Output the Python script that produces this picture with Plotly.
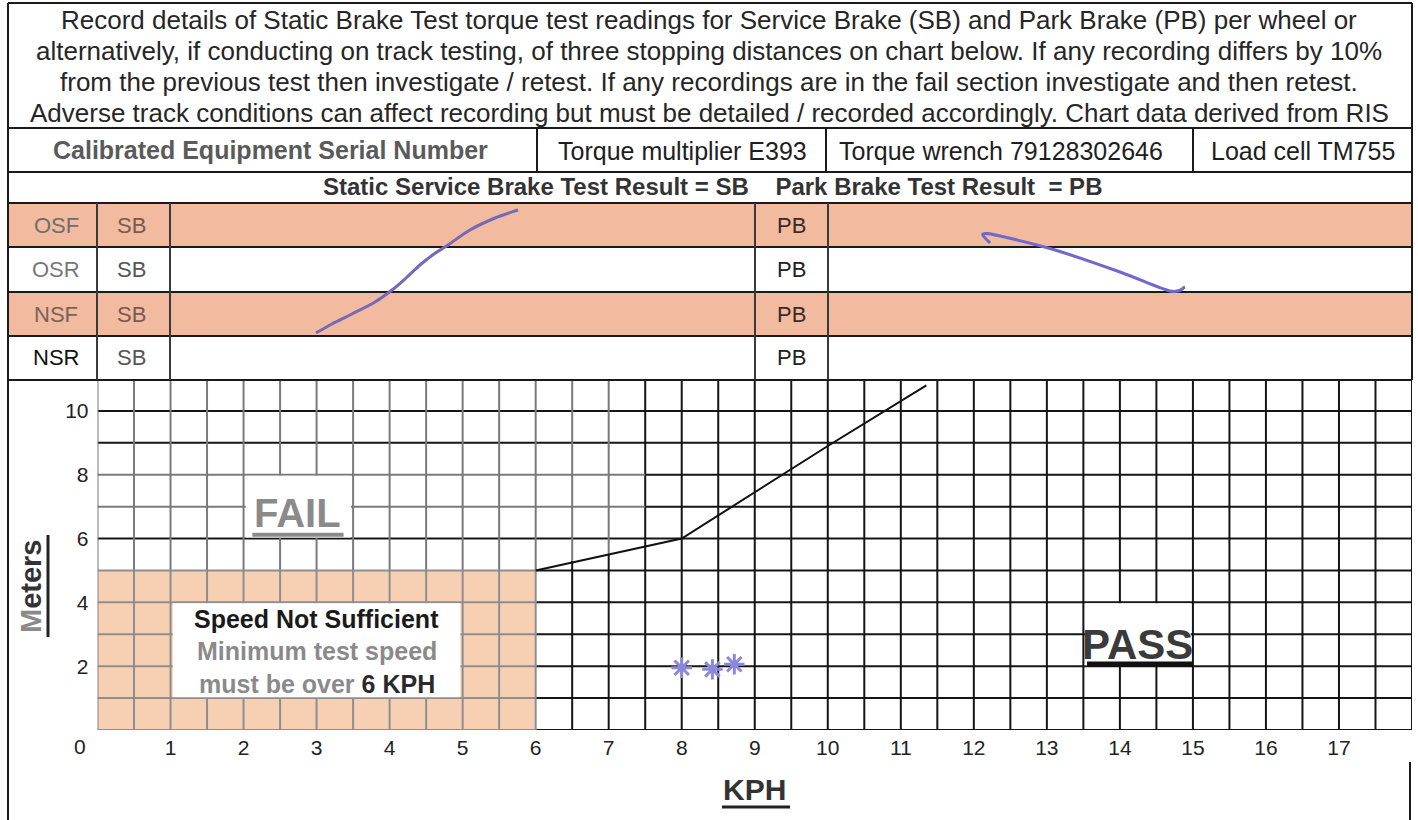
import numpy as np
import plotly.graph_objects as go

# ---------------- data ----------------
kph_ticks = list(range(1, 18))
meter_ticks = [2, 4, 6, 8, 10]
# pass / fail boundary (stopping distance limit, metres vs KPH)
limit_kph = [6, 7, 8, 10, 11.35]
limit_m = [5, 5.5, 6, 8.9, 10.8]
# three recorded stopping distances (handwritten asterisks)
recorded_kph = [8.0, 8.42, 8.72]
recorded_m = [1.95, 1.9, 2.06]
# minimum speed zone
min_speed_kph = 6
min_speed_m = 5

header_lines = [
    "Record details of Static Brake Test torque test readings for Service Brake (SB) and Park Brake (PB) per wheel or",
    "alternatively, if conducting on track testing, of three stopping distances on chart below. If any recording differs by 10%",
    "from the previous test then investigate / retest. If any recordings are in the fail section investigate and then retest.",
    "Adverse track conditions can affect recording but must be detailed / recorded accordingly. Chart data derived from RIS",
]
equipment = ["Calibrated Equipment Serial Number", "Torque multiplier E393",
             "Torque wrench 79128302646", "Load cell TM755"]
wheels = ["OSF", "OSR", "NSF", "NSR"]

# handwritten strokes across the brake table (pixel positions on the form)
sb_stroke_x = [316, 332, 352, 375, 392, 406, 420, 434, 448, 470, 495, 518]
sb_stroke_y = [333, 324, 314, 302, 290, 278, 265, 254, 245, 230, 218, 210]
pb_stroke_x = [990, 983, 1000, 1055, 1120, 1170, 1185]
pb_stroke_y = [243, 234, 236, 250, 272, 291, 287]

# ---------------- layout helpers ----------------
W, H = 1418, 820
FONT = "Liberation Sans"


def X(px):
    return px / W


def Y(py):
    return 1 - py / H


PLOT_L, PLOT_R, PLOT_T, PLOT_B = 97.5, 1412, 379, 730
XMAX, YMAX = 18, 11

fig = go.Figure()
shapes = []
annotations = []


def ann(x, y, text, size, color, xref="paper", yref="paper", **kw):
    if xref == "paper":
        x = X(x)
    if yref == "paper":
        y = Y(y)
    d = dict(xref=xref, yref=yref, x=x, y=y, text=text, showarrow=False, xanchor="center",
             yanchor="middle", font=dict(family=FONT, size=size, color=color))
    d.update(kw)
    annotations.append(d)


# ---------------- grid ----------------
BLACK = "#151515"
GRAY_UP = "#7a7a7a"
GRAY_LOW = "#8e8e8e"
segs = {BLACK: ([], []), GRAY_UP: ([], []), GRAY_LOW: ([], [])}


def seg(col, x0, y0, x1, y1):
    xs, ys = segs[col]
    xs += [x0, x1, None]
    ys += [y0, y1, None]


for xv in np.arange(0, XMAX + 0.01, 0.5):
    if xv <= min_speed_kph:
        seg(GRAY_LOW, xv, 0, xv, min_speed_m)
        seg(GRAY_UP, xv, min_speed_m, xv, YMAX)
    elif xv == 6.5:
        seg(BLACK, xv, 0, xv, 5.3)
        seg(GRAY_UP, xv, 5.3, xv, YMAX)
    elif xv == 7:
        seg(BLACK, xv, 0, xv, 5.5)
        seg(GRAY_UP, xv, 5.5, xv, YMAX)
    else:
        seg(BLACK, xv, 0, xv, YMAX)

for yh in range(0, YMAX):
    if yh <= min_speed_m:
        seg(GRAY_LOW, 0, yh, min_speed_kph, yh)
        seg(BLACK, min_speed_kph, yh, XMAX, yh)
    elif yh in (7, 8):
        seg(GRAY_UP, 0, yh, 7.5, yh)
        seg(BLACK, 7.5, yh, XMAX, yh)
    else:
        seg(BLACK, 0, yh, XMAX, yh)

for col, (xs, ys) in segs.items():
    fig.add_trace(go.Scatter(x=xs, y=ys, mode="lines", line=dict(color=col, width=2),
                             hoverinfo="skip", showlegend=False))

# peach minimum-speed zone
shapes.append(dict(type="rect", xref="x", yref="y", x0=0, x1=min_speed_kph, y0=0, y1=min_speed_m,
                   fillcolor="#F7CFB3", line=dict(width=0), layer="below"))

# boundary line
fig.add_trace(go.Scatter(x=limit_kph, y=limit_m, mode="lines", line=dict(color="#111", width=2),
                         hoverinfo="skip", showlegend=False))

# recorded points
fig.add_trace(go.Scatter(x=recorded_kph, y=recorded_m, mode="markers",
                         marker=dict(symbol="asterisk-open", size=17, color="#8C88DA",
                                     line=dict(color="#8C88DA", width=3)),
                         hoverinfo="skip", showlegend=False))

# white boxes covering grid
for (x0, x1, y0, y1) in [(1.03, 4.97, 1.03, 3.97), (2.03, 3.47, 6.03, 7.97), (13.53, 14.97, 2.03, 3.97)]:
    shapes.append(dict(type="rect", xref="x", yref="y", x0=x0, x1=x1, y0=y0, y1=y1,
                       fillcolor="white", line=dict(width=0), layer="above"))

# FAIL / PASS labels
ann(2.74, 6.8, "<b>FAIL</b>", 40, "#8a8a8a", xref="x", yref="y")
shapes.append(dict(type="line", xref="x", yref="y", x0=2.12, x1=3.37, y0=6.12, y1=6.12,
                   line=dict(color="#8a8a8a", width=4), layer="above"))
ann(14.24, 2.68, "<b>PASS</b>", 42, "#3a3a3a", xref="x", yref="y")
shapes.append(dict(type="line", xref="x", yref="y", x0=13.55, x1=15.0, y0=2.07, y1=2.07,
                   line=dict(color="#111", width=5), layer="above"))

# speed-not-sufficient text
ann(3, 3.47, "<b>Speed Not Sufficient</b>", 25, "#1a1a1a", xref="x", yref="y")
ann(3, 2.48, "<b>Minimum test speed</b>", 25, "#8a8a8a", xref="x", yref="y")
ann(3, 1.45, "<b>must be over </b><b><span style='color:#2a2a2a'>6 KPH</span></b>", 25, "#8a8a8a",
    xref="x", yref="y")

# corner zero
ann(80, 746, "0", 21, "#222")

# axis titles
ann(755, 789, "<b>KPH</b>", 30, "#333")
shapes.append(dict(type="line", xref="paper", yref="paper", x0=X(722), x1=X(790), y0=Y(807), y1=Y(807),
                   line=dict(color="#222", width=3)))
ann(31, 586, "<b><span style='color:#8a8a8a'>M</span>eters</b>", 29, "#333", textangle=-90)
shapes.append(dict(type="line", xref="paper", yref="paper", x0=X(48), x1=X(48), y0=Y(535), y1=Y(637),
                   line=dict(color="#222", width=3)))

# ---------------- form table ----------------
for (t, b) in [(203, 247), (292, 336)]:
    shapes.append(dict(type="rect", xref="paper", yref="paper", x0=X(8), x1=X(1412), y0=Y(b), y1=Y(t),
                       fillcolor="#F2BA9F", line=dict(width=0), layer="below"))


def pline(x0, y0, x1, y1, col="#1a1a1a", w=2):
    shapes.append(dict(type="line", xref="paper", yref="paper", x0=X(x0), x1=X(x1), y0=Y(y0), y1=Y(y1),
                       line=dict(color=col, width=w)))


pline(8, 3, 8, 820)
pline(8, 3, 1412, 3)
pline(1412, 3, 1412, 380)
pline(1410, 762, 1410, 820)
pline(8, 128, 1412, 128)
pline(8, 172, 1412, 172)
pline(8, 203, 1412, 203)
for yy in [247, 292, 336, 380]:
    pline(8, yy, 1412, yy)
for xx in [537, 826, 1193]:
    pline(xx, 128, xx, 172)
for xx in [97, 170, 755, 828]:
    pline(xx, 203, xx, 380, col="#3a3a3a")

# header text
for i, line in enumerate(header_lines):
    ann(709, 20 + i * 31, line, 26, "#262626")

eq_centers = [270, 682, 1001, 1303]
for i, (txt, cx) in enumerate(zip(equipment, eq_centers)):
    if i == 0:
        ann(cx, 150, f"<b>{txt}</b>", 25, "#5a5a5a")
    else:
        ann(cx, 151, txt, 25, "#1e1e1e")

ann(712, 187, "<b>Static Service Brake Test Result = SB    Park Brake Test Result  = PB</b>", 24, "#333")

row_centers = [225, 269, 314, 358]
label_cols = ["#6e6e6e", "#777", "#7a6258", "#111"]
sb_cols = ["#7a5a50", "#555", "#7a5a50", "#555"]
for w_, cy, lc, sc in zip(wheels, row_centers, label_cols, sb_cols):
    ann(56, cy, w_, 22, lc)
    ann(131, cy, "SB", 22, sc)
    ann(791, cy, "PB", 22, "#3a2a26" if sc == "#7a5a50" else "#222")


# handwritten strokes, smoothed with Catmull-Rom -> cubic Bezier
def stroke_path(xs, ys):
    p = [(X(a), Y(b)) for a, b in zip(xs, ys)]
    p = [p[0]] + p + [p[-1]]
    d = f"M {p[1][0]:.5f},{p[1][1]:.5f}"
    for i in range(1, len(p) - 2):
        p0, p1, p2, p3 = p[i - 1], p[i], p[i + 1], p[i + 2]
        c1 = (p1[0] + (p2[0] - p0[0]) / 6, p1[1] + (p2[1] - p0[1]) / 6)
        c2 = (p2[0] - (p3[0] - p1[0]) / 6, p2[1] - (p3[1] - p1[1]) / 6)
        d += f" C {c1[0]:.5f},{c1[1]:.5f} {c2[0]:.5f},{c2[1]:.5f} {p2[0]:.5f},{p2[1]:.5f}"
    return d


shapes.append(dict(type="path", xref="paper", yref="paper", path=stroke_path(sb_stroke_x, sb_stroke_y),
                   line=dict(color="#7569b8", width=3)))
shapes.append(dict(type="path", xref="paper", yref="paper", path=stroke_path(pb_stroke_x, pb_stroke_y),
                   line=dict(color="#6f68cf", width=3)))

fig.update_layout(
    width=W, height=H, autosize=False,
    margin=dict(l=0, r=0, t=0, b=0),
    paper_bgcolor="white", plot_bgcolor="white",
    shapes=shapes, annotations=annotations,
    xaxis=dict(domain=[X(PLOT_L), X(PLOT_R)], range=[0, XMAX], showgrid=False, zeroline=False,
               showline=False, tickvals=kph_ticks, ticktext=[str(v) for v in kph_ticks], ticks="",
               tickfont=dict(family=FONT, size=21, color="#222"), ticklabelstandoff=3, fixedrange=True),
    yaxis=dict(domain=[Y(PLOT_B), Y(PLOT_T)], range=[0, YMAX], showgrid=False, zeroline=False,
               showline=False, tickvals=meter_ticks, ticktext=[str(v) for v in meter_ticks], ticks="",
               tickfont=dict(family=FONT, size=21, color="#222"), ticklabelstandoff=8, fixedrange=True),
    showlegend=False,
)

fig.write_html("out.html", config={"displayModeBar": False},
               post_script="document.body.style.margin='0px';document.body.style.overflow='hidden';")
